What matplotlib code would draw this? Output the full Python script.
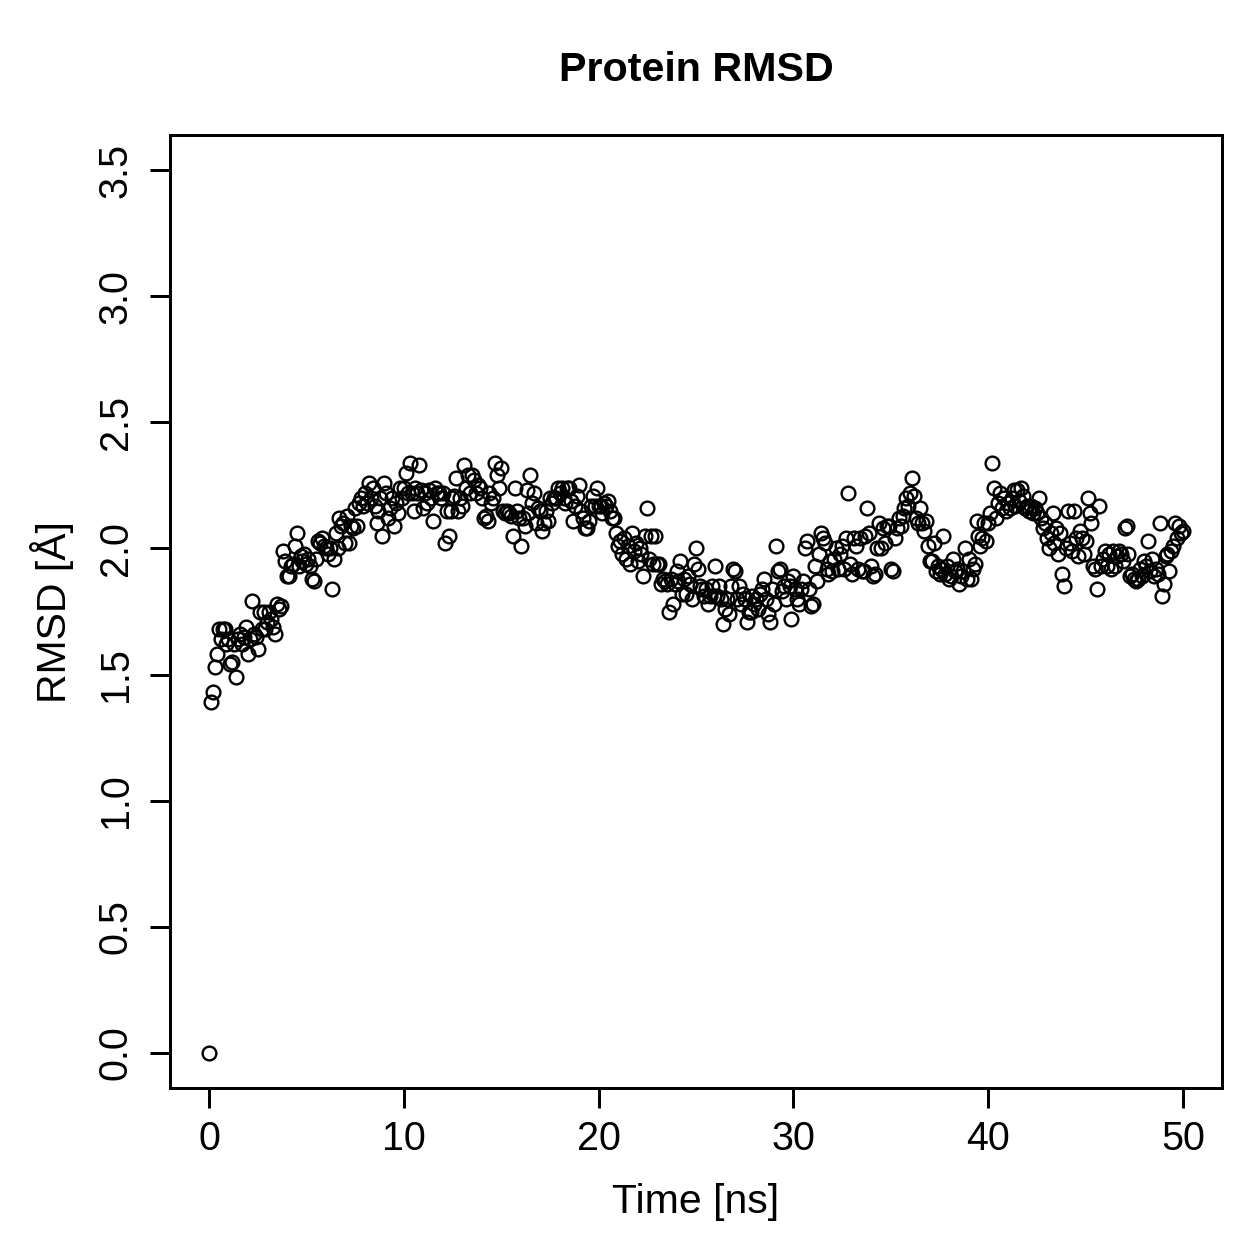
import numpy as np
import matplotlib
matplotlib.use("Agg")
import matplotlib.pyplot as plt

plt.rcParams['font.family'] = ['Liberation Sans', 'DejaVu Sans']

# RMSD values (Angstrom), sampled every 0.1 ns, read row by row (1 ns per row)
rmsd = [
    0.00, 1.39, 1.43, 1.53, 1.58, 1.68, 1.64, 1.68, 1.68, 1.62,
    1.64, 1.54, 1.55, 1.62, 1.49, 1.64, 1.66, 1.62, 1.65, 1.69,
    1.58, 1.64, 1.79, 1.66, 1.65, 1.60, 1.75, 1.68, 1.75, 1.68,
    1.71, 1.75, 1.72, 1.69, 1.66, 1.78, 1.76, 1.77, 1.99, 1.95,
    1.89, 1.89, 1.93, 1.94, 2.01, 2.06, 1.93, 1.97, 1.95, 1.98,
    1.94, 1.96, 1.93, 1.88, 1.87, 1.96, 2.03, 2.02, 2.04, 2.01,
    2.00, 1.98, 2.00, 1.84, 1.96, 2.06, 2.00, 2.12, 2.09, 2.10,
    2.02, 2.13, 2.02, 2.09, 2.08, 2.16, 2.09, 2.18, 2.20, 2.17,
    2.22, 2.18, 2.26, 2.20, 2.24, 2.17, 2.10, 2.15, 2.20, 2.05,
    2.26, 2.22, 2.12, 2.16, 2.20, 2.09, 2.18, 2.14, 2.24, 2.20,
    2.24, 2.30, 2.22, 2.34, 2.22, 2.15, 2.24, 2.22, 2.33, 2.23,
    2.16, 2.22, 2.18, 2.23, 2.20, 2.11, 2.24, 2.22, 2.22, 2.20,
    2.22, 2.02, 2.15, 2.05, 2.15, 2.20, 2.21, 2.28, 2.15, 2.20,
    2.17, 2.33, 2.24, 2.29, 2.22, 2.29, 2.27, 2.22, 2.25, 2.24,
    2.20, 2.12, 2.13, 2.11, 2.22, 2.18, 2.20, 2.34, 2.29, 2.24,
    2.32, 2.15, 2.14, 2.15, 2.14, 2.13, 2.05, 2.24, 2.15, 2.12,
    2.01, 2.12, 2.09, 2.23, 2.14, 2.29, 2.18, 2.22, 2.10, 2.16,
    2.15, 2.07, 2.10, 2.15, 2.11, 2.20, 2.18, 2.20, 2.20, 2.24,
    2.22, 2.24, 2.20, 2.18, 2.24, 2.24, 2.19, 2.11, 2.17, 2.21,
    2.25, 2.15, 2.12, 2.08, 2.08, 2.11, 2.17, 2.21, 2.17, 2.24,
    2.17, 2.17, 2.14, 2.18, 2.17, 2.19, 2.15, 2.12, 2.12, 2.06,
    2.01, 2.03, 1.98, 2.04, 1.96, 2.01, 1.94, 2.06, 1.99, 2.02,
    1.95, 2.00, 1.98, 1.89, 2.05, 2.16, 1.96, 2.05, 1.94, 2.05,
    1.94, 1.94, 1.86, 1.88, 1.87, 1.86, 1.75, 1.88, 1.78, 1.86,
    1.91, 1.87, 1.95, 1.82, 1.88, 1.82, 1.89, 1.86, 1.80, 1.94,
    2.00, 1.92, 1.85, 1.84, 1.81, 1.84, 1.78, 1.81, 1.85, 1.81,
    1.93, 1.81, 1.85, 1.80, 1.70, 1.76, 1.80, 1.74, 1.85, 1.92,
    1.91, 1.80, 1.85, 1.78, 1.82, 1.80, 1.71, 1.75, 1.75, 1.81,
    1.78, 1.80, 1.76, 1.82, 1.84, 1.88, 1.80, 1.74, 1.71, 1.84,
    1.78, 2.01, 1.91, 1.92, 1.83, 1.85, 1.80, 1.87, 1.85, 1.72,
    1.89, 1.84, 1.80, 1.78, 1.84, 1.87, 2.00, 2.03, 1.84, 1.77,
    1.78, 1.93, 1.87, 1.98, 2.06, 2.04, 2.02, 1.92, 1.90, 1.95,
    1.91, 1.96, 2.00, 1.92, 1.98, 2.01, 1.92, 2.04, 2.22, 1.94,
    1.90, 2.04, 2.01, 1.92, 2.04, 1.91, 1.91, 2.05, 2.16, 2.06,
    1.93, 1.89, 1.90, 2.00, 2.10, 2.00, 2.08, 2.02, 2.09, 2.09,
    1.92, 1.91, 2.04, 2.08, 2.12, 2.09, 2.13, 2.16, 2.20, 2.17,
    2.22, 2.28, 2.21, 2.12, 2.10, 2.16, 2.10, 2.07, 2.11, 2.01,
    1.95, 1.95, 2.02, 1.91, 1.93, 1.90, 1.92, 2.05, 1.90, 1.93,
    1.88, 1.89, 1.96, 1.91, 1.92, 1.86, 1.89, 1.91, 2.00, 1.88,
    1.96, 1.88, 1.92, 1.94, 2.11, 2.05, 2.01, 2.04, 2.10, 2.03,
    2.10, 2.14, 2.34, 2.24, 2.12, 2.18, 2.22, 2.16, 2.20, 2.15,
    2.18, 2.16, 2.20, 2.23, 2.17, 2.23, 2.19, 2.24, 2.21, 2.16,
    2.17, 2.15, 2.17, 2.14, 2.16, 2.14, 2.20, 2.12, 2.08, 2.10,
    2.04, 2.00, 2.06, 2.14, 2.02, 2.08, 1.98, 2.06, 1.90, 1.85,
    2.00, 2.15, 2.02, 1.99, 2.15, 2.04, 1.97, 2.07, 2.04, 1.98,
    2.03, 2.20, 2.14, 2.10, 1.93, 1.92, 1.84, 2.17, 1.93, 1.96,
    1.99, 1.93, 1.98, 1.92, 1.99, 1.93, 1.97, 1.99, 1.98, 1.95,
    2.08, 2.09, 1.98, 1.89, 1.90, 1.88, 1.87, 1.88, 1.92, 1.89,
    1.95, 1.93, 2.03, 1.91, 1.96, 1.89, 1.92, 1.90, 2.10, 1.81,
    1.86, 1.97, 1.98, 1.91, 1.99, 2.01, 2.10, 2.04, 2.09, 2.06,
    2.07,
]
time_step_ns = 0.1
time_ns = np.arange(len(rmsd)) * time_step_ns

x_ticks = [0, 10, 20, 30, 40, 50]
y_ticks = [0.0, 0.5, 1.0, 1.5, 2.0, 2.5, 3.0, 3.5]
y_tick_labels = ["0.0", "0.5", "1.0", "1.5", "2.0", "2.5", "3.0", "3.5"]

title = "Protein RMSD"
x_label = "Time [ns]"
y_label = "RMSD [Å]"

W = 1259
fig = plt.figure(figsize=(W / 180, W / 180), dpi=180)
ax = fig.add_axes([170 / W, 1 - 1088 / W, (1222 - 170) / W, (1088 - 135) / W])

ax.plot(time_ns, rmsd, linestyle='none', marker='o', markersize=5.5,
        markerfacecolor='none', markeredgecolor='black', markeredgewidth=0.95)

ax.set_xlim(-2, 52)
ax.set_ylim(-0.14, 3.64)
ax.set_xticks(x_ticks)
ax.set_xticklabels([str(v) for v in x_ticks])
ax.set_yticks(y_ticks)
ax.set_yticklabels(y_tick_labels, rotation=90, va='center')

for s in ax.spines.values():
    s.set_linewidth(1.2)
ax.tick_params(axis='both', direction='out', length=8, width=1.2,
               labelsize=15.8, top=False, right=False)
ax.tick_params(axis='x', pad=5)
ax.tick_params(axis='y', pad=6)

fig.text(696 / W, 1 - 70 / W, title, ha='center', va='center',
         fontsize=16.5, fontweight='bold')
fig.text(696 / W, 1 - 1202 / W, x_label, ha='center', va='center',
         fontsize=16.4)
fig.text(52 / W, 1 - 612 / W, y_label, ha='center', va='center',
         fontsize=16.4, rotation=90)

fig.savefig("out.png", dpi=180)
